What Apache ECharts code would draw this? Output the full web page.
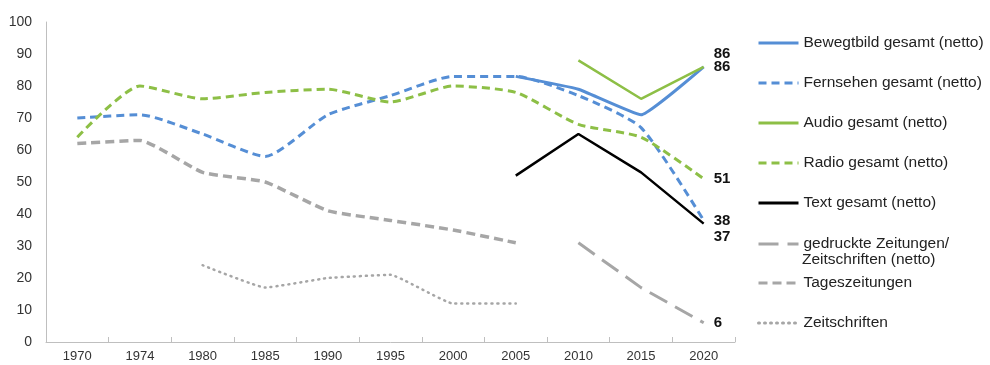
<!DOCTYPE html>
<html>
<head>
<meta charset="utf-8">
<script src="https://cdn.jsdelivr.net/npm/echarts@6/dist/echarts.min.js"></script>
<style>
html,body{margin:0;padding:0;background:#fff;}
#chart{width:990px;height:365px;}
</style>
</head>
<body>
<div id="chart"></div>
<script>
// ---- data ----
var years = ['1970','1974','1980','1985','1990','1995','2000','2005','2010','2015','2020'];
var bewegtbild     = [null, null, null, null, null, null, null, 83, 79, 71, 86];
var fernsehen      = [70, 71, 65, 58, 71, 77, 83, 83, 77, 67, 38];
var audio          = [null, null, null, null, null, null, null, null, 88, 76, 86];
var radio          = [64, 80, 76, 78, 79, 75, 80, 78, 68, 64, 51];
var textGesamt     = [null, null, null, null, null, null, null, 52, 65, 53, 37];
var gedruckte      = [null, null, null, null, null, null, null, null, 31, 17, 6];
var tageszeitungen = [62, 63, 53, 50, 41, 38, 35, 31, null, null, null];
var zeitschriften  = [null, null, 24, 17, 20, 21, 12, 12, null, null, null];
var yTicks = [0, 10, 20, 30, 40, 50, 60, 70, 80, 90, 100];

var names = [
  'Bewegtbild gesamt (netto)',
  'Fernsehen gesamt (netto)',
  'Audio gesamt (netto)',
  'Radio gesamt (netto)',
  'Text gesamt (netto)',
  'gedruckte Zeitungen/Zeitschriften (netto)',
  'Tageszeitungen',
  'Zeitschriften'
];

var BLUE = '#558ed5', GREEN = '#8dbf46', GRAY = '#a6a6a6', BLACK = '#000000';

function mkSeries(name, data, color, type, width, smooth, labelOffsetY) {
  var dotted = Array.isArray(type) && type[0] <= 2;
  return {
    name: name, type: 'line', data: data, smooth: smooth,
    symbol: 'none', connectNulls: false,
    lineStyle: { color: color, width: width, type: type, cap: dotted ? 'round' : 'butt' },
    itemStyle: { color: color },
    endLabel: labelOffsetY === undefined ? { show: false } : {
      show: true, distance: 10, offset: [0, labelOffsetY],
      formatter: function (p) { return String(p.value); },
      fontFamily: 'Liberation Sans, Arial, sans-serif', fontSize: 15, fontWeight: 'bold', color: '#111'
    }
  };
}

var series = [
  mkSeries(names[0], bewegtbild, BLUE, 'solid', 3, 0.1, -13),
  mkSeries(names[1], fernsehen, BLUE, [8, 5], 3, 0.2, 0),
  mkSeries(names[2], audio, GREEN, 'solid', 2.5, false, 0),
  mkSeries(names[3], radio, GREEN, [8, 5], 3, 0.2, 0),
  mkSeries(names[4], textGesamt, BLACK, 'solid', 2.5, false, 13),
  mkSeries(names[5], gedruckte, GRAY, [20, 9], 3, false, 0),
  mkSeries(names[6], tageszeitungen, GRAY, [9, 5], 3.5, 0.15),
  mkSeries(names[7], zeitschriften, GRAY, [1, 5], 2.5, 0.1)
];

var legendCenters = [42, 82, 122, 162, 202, 243, 282, 322];
var legends = names.map(function (n, i) {
  return {
    orient: 'vertical', left: 757, top: legendCenters[i] - 7, bottom: 'auto', right: 'auto',
    padding: 0,
    data: [n], itemWidth: 40, itemHeight: 14, itemGap: 0,
    selectedMode: false,
    itemStyle: { opacity: 0 },
    lineStyle: { width: 3 },
    formatter: i === 5 ? function () { return 'gedruckte Zeitungen/'; } : '{name}',
    textStyle: { fontFamily: 'Liberation Sans, Arial, sans-serif', fontSize: 15.5, color: '#222', lineHeight: 16 }
  };
});

var chart = echarts.init(document.getElementById('chart'), null, { renderer: 'canvas' });
chart.setOption({
  backgroundColor: '#fff',
  animation: false,
  grid: { left: 46, right: 255, top: 22, bottom: 23, containLabel: false },
  legend: legends,
  graphic: [{
    type: 'text', left: 802, top: 252,
    style: { text: 'Zeitschriften (netto)', font: '15.5px "Liberation Sans", Arial, sans-serif', fill: '#222' }
  }],
  xAxis: {
    type: 'category', data: years, boundaryGap: true,
    axisLine: { lineStyle: { color: '#bfbfbf', width: 1 } },
    axisTick: { show: true, inside: true, length: 5, lineStyle: { color: '#bfbfbf' } },
    axisLabel: { color: '#333', fontFamily: 'Liberation Sans, Arial, sans-serif', fontSize: 13, margin: 8 },
    splitLine: { show: false }
  },
  yAxis: {
    type: 'value', min: yTicks[0], max: yTicks[yTicks.length - 1], interval: 10,
    axisLine: { show: true, lineStyle: { color: '#bfbfbf', width: 1 } },
    axisTick: { show: false },
    axisLabel: { color: '#333', fontFamily: 'Liberation Sans, Arial, sans-serif', fontSize: 14, margin: 14 },
    splitLine: { show: false }
  },
  series: series
});
</script>
</body>
</html>
